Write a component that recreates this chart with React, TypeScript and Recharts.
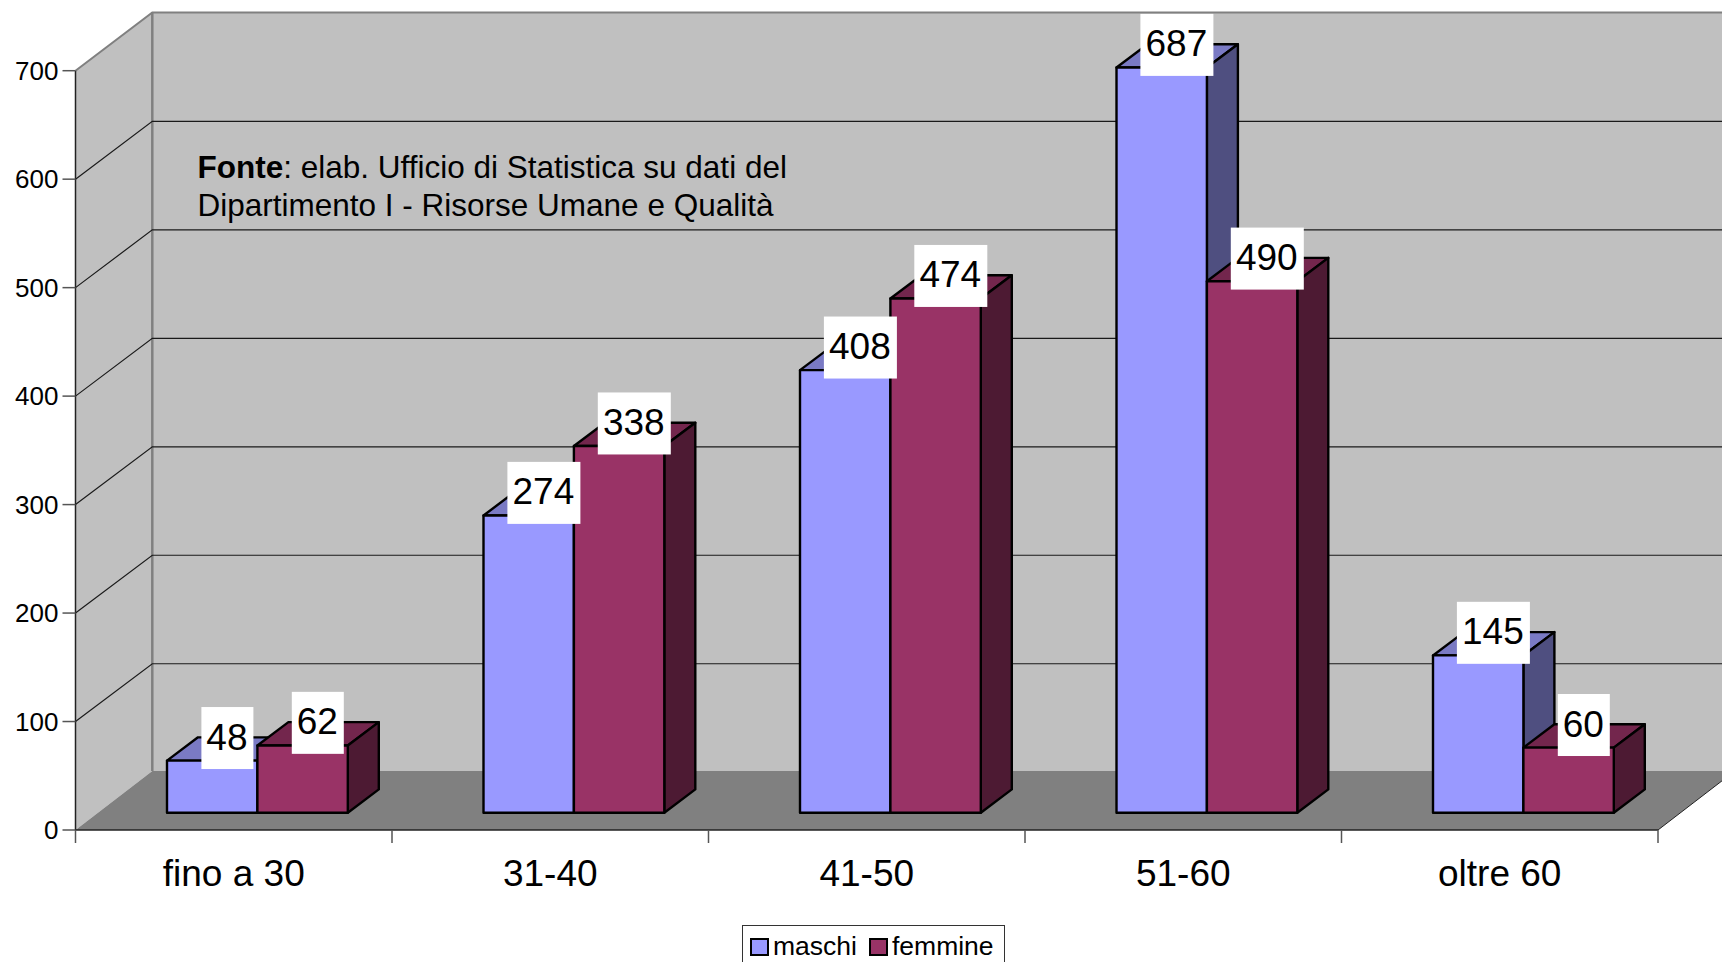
import { Bar, BarChart, CartesianGrid, LabelList, Legend, XAxis, YAxis } from "recharts";

const categories = ["fino a 30", "31-40", "41-50", "51-60", "oltre 60"];
const maschi = [48, 274, 408, 687, 145];
const femmine = [62, 338, 474, 490, 60];
const yTicks = [0, 100, 200, 300, 400, 500, 600, 700];

const rows = categories.map((name, i) => ({ name, maschi: maschi[i], femmine: femmine[i] }));

const W = 1722;
const H = 962;
const FONT = '"Liberation Sans", Arial, sans-serif';

// front plane of the 3D box
const LEFT = 75.5;
const RIGHT = 1658;
const TOP = 70.7;
const BOTTOM = 830;
const BAND = (RIGHT - LEFT) / categories.length;

// how far the back wall sits from the front plane
const WALL_DX = 76.8;
const FLOOR_DY = 59;
const GRID_DY = 57.8;
const CEIL_DY = 58.2;

// where the bars stand on the floor, and how deep they are
const BAR_DX = 23.5;
const BAR_DY = 17.3;
const DEPTH_DX = 31;
const DEPTH_DY = 23.3;

const COLORS: Record<string, { front: string; top: string; side: string }> = {
  maschi: { front: "#9999ff", top: "#7a7ac4", side: "#4f4f80" },
  femmine: { front: "#993366", top: "#73264d", side: "#4d1a33" },
};

function pts(list: number[][]) {
  return list.map((p) => p.join(",")).join(" ");
}

function Walls() {
  return (
    <g>
      <polygon
        points={pts([
          [LEFT, BOTTOM],
          [LEFT + WALL_DX, BOTTOM - FLOOR_DY],
          [W + 20, BOTTOM - FLOOR_DY],
          [W + 20, TOP - CEIL_DY],
          [LEFT + WALL_DX, TOP - CEIL_DY],
          [LEFT, TOP],
        ])}
        fill="#c0c0c0"
      />
      <polygon
        points={pts([
          [LEFT, BOTTOM],
          [RIGHT, BOTTOM],
          [RIGHT + WALL_DX, BOTTOM - FLOOR_DY],
          [LEFT + WALL_DX, BOTTOM - FLOOR_DY],
        ])}
        fill="#808080"
      />
      <polyline
        points={pts([
          [LEFT, TOP],
          [LEFT + WALL_DX, TOP - CEIL_DY],
          [W + 20, TOP - CEIL_DY],
        ])}
        fill="none"
        stroke="#808080"
        strokeWidth={2}
      />
      <line
        x1={LEFT + WALL_DX}
        y1={TOP - CEIL_DY}
        x2={LEFT + WALL_DX}
        y2={BOTTOM - FLOOR_DY}
        stroke="#808080"
        strokeWidth={2.5}
      />
      <line x1={RIGHT} y1={BOTTOM} x2={RIGHT + WALL_DX} y2={BOTTOM - FLOOR_DY} stroke="#222" strokeWidth={1} />
      <text x={197.5} y={178} fontFamily={FONT} fontSize={31.5} fill="#000">
        <tspan fontWeight="bold">Fonte</tspan>: elab. Ufficio di Statistica su dati del
      </text>
      <text x={197.5} y={216} fontFamily={FONT} fontSize={31.5} fill="#000">
        Dipartimento I - Risorse Umane e Qualità
      </text>
    </g>
  );
}

// grid line wraps from the side wall on to the back wall
function GridLine(props: any) {
  const { x1, x2, y1 } = props;
  if (Math.abs(y1 - BOTTOM) < 1 || Math.abs(y1 - TOP) < 1) return <g />;
  return (
    <polyline
      points={pts([
        [x1, y1],
        [x1 + WALL_DX, y1 - GRID_DY],
        [x2 + WALL_DX + 20, y1 - GRID_DY],
      ])}
      fill="none"
      stroke="#1a1a1a"
      strokeWidth={1.2}
    />
  );
}

function Box3D(props: any) {
  const { x, y, width, height, dataKey } = props;
  const c = COLORS[dataKey];
  const fx = x + BAR_DX;
  const fy = y - BAR_DY;
  const edge = { stroke: "#000", strokeWidth: 2.4, strokeLinejoin: "round" as const };
  return (
    <g>
      <polygon
        points={pts([
          [fx, fy],
          [fx + DEPTH_DX, fy - DEPTH_DY],
          [fx + width + DEPTH_DX, fy - DEPTH_DY],
          [fx + width, fy],
        ])}
        fill={c.top}
        {...edge}
      />
      <polygon
        points={pts([
          [fx + width, fy],
          [fx + width + DEPTH_DX, fy - DEPTH_DY],
          [fx + width + DEPTH_DX, fy + height - DEPTH_DY],
          [fx + width, fy + height],
        ])}
        fill={c.side}
        {...edge}
      />
      <rect x={fx} y={fy} width={width} height={height} fill={c.front} {...edge} />
    </g>
  );
}

function ValueLabel(props: any) {
  const { x, y, width, value } = props;
  const cx = x + BAR_DX + width / 2 + 15.2;
  const cy = y - BAR_DY - 22.6;
  const boxW = String(value).length > 2 ? 73 : 52;
  return (
    <g>
      <rect x={cx - boxW / 2} y={cy - 31} width={boxW} height={62} fill="#fff" />
      <text x={cx - 0.5} y={cy + 11.5} textAnchor="middle" fontFamily={FONT} fontSize={37} fill="#000">
        {value}
      </text>
    </g>
  );
}

// ticks sit on the category boundaries, labels in the middle
function CategoryTick(props: any) {
  const { x, payload, index } = props;
  const left = x - BAND / 2;
  return (
    <g>
      <line x1={left} y1={BOTTOM} x2={left} y2={BOTTOM + 13} stroke="#555" strokeWidth={1.5} />
      {index === categories.length - 1 && (
        <line x1={left + BAND} y1={BOTTOM} x2={left + BAND} y2={BOTTOM + 13} stroke="#555" strokeWidth={1.5} />
      )}
      <text x={x} y={886} textAnchor="middle" fontFamily={FONT} fontSize={37} fill="#000">
        {payload.value}
      </text>
    </g>
  );
}

function LegendBox(props: any) {
  const { payload } = props;
  return (
    <div
      style={{
        boxSizing: "border-box",
        height: 60,
        border: "1.5px solid #333",
        display: "flex",
        alignItems: "flex-start",
        paddingTop: 5,
        paddingLeft: 7,
        background: "#fff",
      }}
    >
      {(payload || []).map((item: any) => (
        <span
          key={item.value}
          style={{ display: "inline-flex", alignItems: "center", marginRight: 12, fontFamily: FONT, fontSize: 26.5, color: "#000" }}
        >
          <span
            style={{
              boxSizing: "border-box",
              width: 19,
              height: 18,
              border: "2.4px solid #000",
              background: COLORS[item.dataKey].front,
              marginRight: 4,
            }}
          />
          {item.value}
        </span>
      ))}
    </div>
  );
}

export default function App() {
  return (
    <div style={{ position: "absolute", left: 0, top: 0, width: W, height: H, overflow: "hidden", background: "#fff" }}>
      <BarChart
        width={W}
        height={H}
        data={rows}
        barSize={90.4}
        barGap={0}
        margin={{ top: TOP, right: W - RIGHT, bottom: H - BOTTOM - 60, left: 0 }}
      >
        <Walls />
        <CartesianGrid vertical={false} horizontal={GridLine} zIndex={1} />
        <XAxis
          dataKey="name"
          height={60}
          interval={0}
          tick={CategoryTick}
          tickLine={false}
          axisLine={{ stroke: "#222", strokeWidth: 1.5 }}
        />
        <YAxis
          width={LEFT}
          domain={[0, 700]}
          ticks={yTicks}
          interval={0}
          tickSize={13}
          tickMargin={4}
          tick={{ fontFamily: FONT, fontSize: 26, fill: "#000" }}
          tickLine={{ stroke: "#555", strokeWidth: 1.5 }}
          axisLine={{ stroke: "#222", strokeWidth: 1.5 }}
        />
        <Legend
          layout="horizontal"
          verticalAlign="middle"
          itemSorter={null}
          content={LegendBox}
          wrapperStyle={{ left: 742, top: 925, width: 263, height: 60 }}
        />
        <Bar dataKey="maschi" name="maschi" fill={COLORS.maschi.front} shape={Box3D} isAnimationActive={false}>
          <LabelList dataKey="maschi" content={ValueLabel} />
        </Bar>
        <Bar dataKey="femmine" name="femmine" fill={COLORS.femmine.front} shape={Box3D} isAnimationActive={false}>
          <LabelList dataKey="femmine" content={ValueLabel} />
        </Bar>
      </BarChart>
    </div>
  );
}
